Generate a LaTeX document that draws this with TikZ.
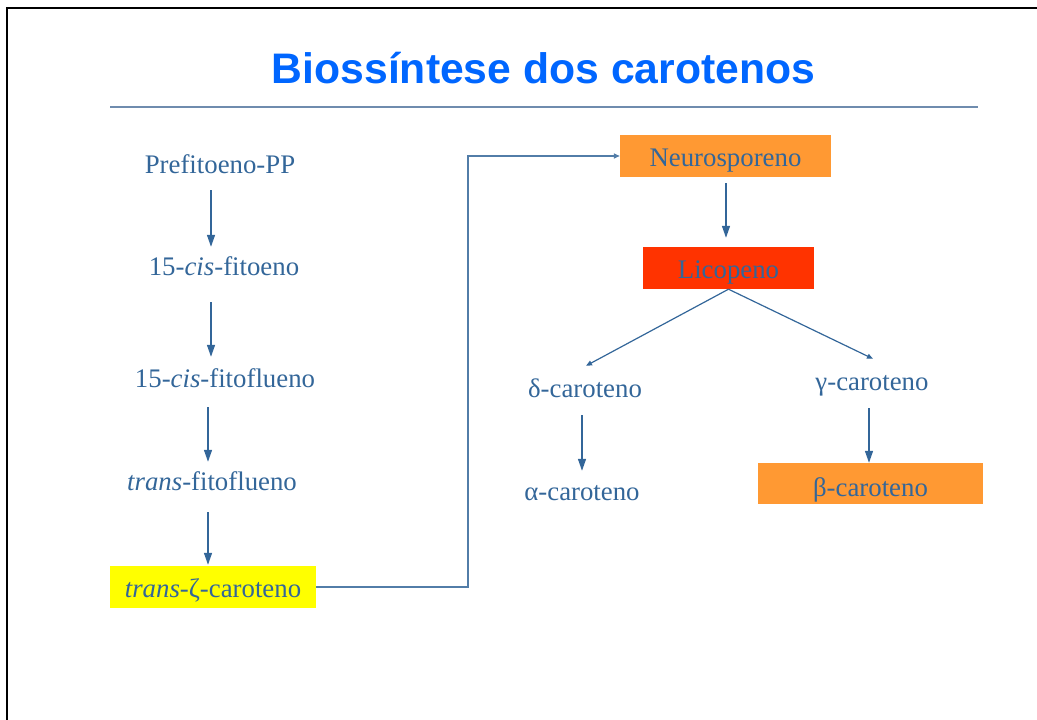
\documentclass[tikz,border=0pt]{standalone}
\usepackage{fontspec}
\setmainfont{Liberation Serif}
\newfontfamily\titlefont{Liberation Sans}
\usetikzlibrary{arrows.meta}
\definecolor{txt}{HTML}{336699}
\definecolor{titleblue}{HTML}{0066FF}
\definecolor{rulecol}{HTML}{6F8CAE}
\definecolor{orangebox}{HTML}{FF9933}
\definecolor{redbox}{HTML}{FF3300}
\definecolor{yellowbox}{HTML}{FFFF00}
\tikzset{
  lbl/.style={anchor=base, inner sep=0pt, text height=19pt, text depth=6pt, text=txt, font=\fontsize{26.8}{30}\selectfont},
  boxnode/.style={lbl, text height=31pt, text depth=11pt},
  arr/.style={draw=txt, line width=1.4pt, -{Triangle[length=12pt,width=8pt]}},
  arrsmall/.style={draw=txt, line width=1.2pt, -{Triangle[length=6pt,width=5pt]}},
  elbow/.style={draw=txt!85!white, line width=1.6pt, -{Triangle[length=6pt,width=5pt]}},
}
\begin{document}
\begin{tikzpicture}[x=1pt,y=-1pt]
\useasboundingbox (0,0) rectangle (1037,720);
% slide frame
\draw[line width=2.8pt, black] (7,720) -- (7,8) -- (1037,8);
% title
\node[anchor=base, inner sep=0pt, text=titleblue, font=\titlefont\bfseries\fontsize{42.7}{48}\selectfont] (title) at (543.5,83) {Biossíntese dos carotenos};
\draw[rulecol, line width=1.5pt] (110,107) -- (978,107);

% left column
\node[lbl] (pre) at (220,173) {Prefitoeno-PP};
\node[lbl] (fitoeno) at (224,275) {15-\textit{cis}-fitoeno};
\node[lbl] (fitoflueno) at (225,387) {15-\textit{cis}-fitoflueno};
\node[lbl] (transfito) at (212,490) {\textit{trans}-fitoflueno};
\node[boxnode, fill=yellowbox, minimum width=206pt] (zeta) at (213,597) {\textit{trans}-ζ-caroteno};

\draw[arr, shorten <=11pt, shorten >=9pt] ([xshift=-9pt]pre.south) -- ([xshift=-13pt]fitoeno.north);
\draw[arr, shorten <=21pt, shorten >=11pt] ([xshift=-13pt]fitoeno.south) -- ([xshift=-14pt]fitoflueno.north);
\draw[arr, shorten <=14pt, shorten >=9pt] ([xshift=-17pt]fitoflueno.south) -- ([xshift=-4pt]transfito.north);
\draw[arr, shorten <=16pt, shorten >=1pt] ([xshift=-4pt]transfito.south) -- ([xshift=-5pt]zeta.north);

% right part
\node[boxnode, fill=orangebox, minimum width=211pt] (neuro) at (725.5,166) {Neurosporeno};
\node[boxnode, fill=redbox, minimum width=171pt] (lico) at (728.5,278) {Licopeno};
\node[lbl] (delta) at (585,397) {δ-caroteno};
\node[lbl] (gamma) at (872,390) {γ-caroteno};
\node[lbl] (alpha) at (582,500) {α-caroteno};
\node[lbl, text height=33pt, text depth=8pt, fill=orangebox, minimum width=225pt] (beta) at (870.5,496) {β-caroteno};

\coordinate (bend) at (468,156);
\draw[elbow] (zeta.east) -| (bend) -- (neuro.west);

\draw[arr, shorten <=6pt, shorten >=9pt] ([xshift=0.5pt]neuro.south) -- ([xshift=-2.5pt]lico.north);
\draw[arrsmall] (lico.south) -- ([xshift=1pt,yshift=12pt]delta.north);
\draw[arrsmall] (lico.south) -- ([xshift=1pt,yshift=12pt]gamma.north);
\draw[arr, shorten <=12pt, shorten >=10pt] ([xshift=-3pt]delta.south) -- (alpha.north);
\draw[arr, shorten <=12pt, shorten >=0pt] ([xshift=-3pt]gamma.south) -- ([xshift=-1.5pt]beta.north);
\end{tikzpicture}
\end{document}
